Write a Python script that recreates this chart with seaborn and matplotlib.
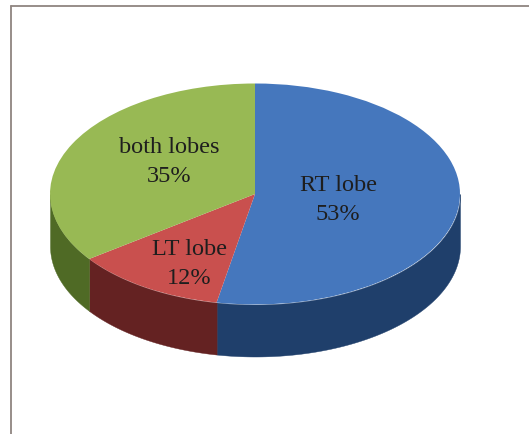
import numpy as np
import matplotlib
matplotlib.use("Agg")
import matplotlib.pyplot as plt
from matplotlib.lines import Line2D
import seaborn as sns

# Tumour location by lobe
categories = ["RT lobe", "LT lobe", "both lobes"]
percentages = [53, 12, 35]
top_colors = ["#4577BD", "#C9504E", "#98B954"]
side_colors = ["#1F3F6B", "#642222", "#4F6A25"]

WIDTH, HEIGHT = 529, 434
CX, CY, RX, RY = 255.0, 194.0, 205.0, 110.5
DEPTH = 52.0 / RY

sns.set_theme(style="white")
plt.rcParams["font.family"] = ["Liberation Serif", "DejaVu Serif"]

fig = plt.figure(figsize=(WIDTH / 100, HEIGHT / 100), dpi=100, facecolor="white")
ax = fig.add_axes([0, 0, 1, 1])

palette = sns.color_palette(top_colors)
ax.pie(percentages, colors=palette, startangle=90, counterclock=False,
       radius=1.0, wedgeprops={"linewidth": 0, "zorder": 3})
ax.set_aspect("auto")
ax.set_xlim(-CX / RX, (WIDTH - CX) / RX)
ax.set_ylim((CY - HEIGHT) / RY, CY / RY)
ax.set_frame_on(False)

# Side wall of the disc: only the arc facing the viewer is visible
edges = np.concatenate([[0], np.cumsum(percentages)]) / np.sum(percentages) * 360
for start, stop, color in zip(edges[:-1], edges[1:], side_colors):
    lo, hi = max(start, 90), min(stop, 270)
    if hi <= lo:
        continue
    theta = np.radians(np.linspace(lo, hi, 120))
    x, y = np.sin(theta), np.cos(theta)
    ax.fill_between(x, y - DEPTH, y, color=color, linewidth=0.3, zorder=2)

# Slice captions, centred in pixel coordinates
label_centres = [(338, 200), (189, 264), (169, 162)]
for name, pct, (px, py) in zip(categories, percentages, label_centres):
    ax.text((px - CX) / RX, (CY - py) / RY, f"{name}\n{pct}%", ha="center",
            va="center", fontsize=17.5, color="#1E1E1E", linespacing=1.47, zorder=5)

# Panel border, open to the right and bottom
border = "#8F8580"
fig.add_artist(Line2D([10.5 / WIDTH, 10.5 / WIDTH], [0, 1 - 5.5 / HEIGHT],
                      color=border, lw=1.3))
fig.add_artist(Line2D([10.5 / WIDTH, 1], [1 - 5.5 / HEIGHT, 1 - 5.5 / HEIGHT],
                      color=border, lw=1.3))

fig.savefig("out.png", dpi=100, facecolor="white")
